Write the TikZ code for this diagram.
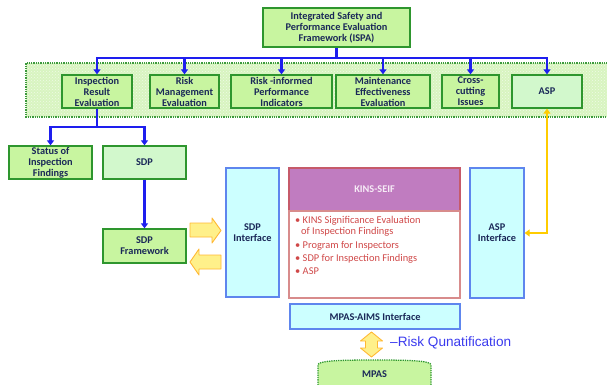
\documentclass[tikz,border=0pt]{standalone}
\usepackage{fontspec}
\setmainfont{Carlito}
\newfontfamily\arialf{Liberation Sans}
\usetikzlibrary{arrows.meta,patterns}
\definecolor{gfill}{HTML}{C8F5A0}
\definecolor{lfill}{HTML}{D2F8CC}
\definecolor{gborder}{HTML}{2E962E}
\definecolor{navy}{HTML}{1A2858}
\definecolor{bandfill}{HTML}{D8F4C0}
\definecolor{bandborder}{HTML}{3C9A3C}
\definecolor{bluec}{HTML}{1E1EEE}
\definecolor{cyanfill}{HTML}{CCFFFF}
\definecolor{cyanborder}{HTML}{5E86EE}
\definecolor{purp}{HTML}{C07CC0}
\definecolor{purpborder}{HTML}{C65A6A}
\definecolor{bodyborder}{HTML}{D88C8C}
\definecolor{redtext}{HTML}{D04848}
\definecolor{goldc}{HTML}{FFCC00}
\definecolor{yelfill}{HTML}{FFF08A}
\definecolor{yelborder}{HTML}{FFB833}
\definecolor{risktext}{HTML}{3A3AEE}
\begin{document}
\begin{tikzpicture}[x=1pt,y=-1pt,
  box/.style={draw=gborder, fill=gfill, line width=1.3pt, align=center, inner sep=0pt,
    font=\bfseries\fontsize{10.3}{11}\selectfont, text=navy},
  lbox/.style={box, fill=lfill},
  cbox/.style={draw=cyanborder, fill=cyanfill, line width=1.3pt, align=center, inner sep=0pt,
    font=\bfseries\fontsize{10.3}{11}\selectfont, text=navy},
  barr/.style={draw=bluec, line width=2.3pt, -{Triangle[length=5pt,width=7pt]}},
  bline/.style={draw=bluec, line width=2.3pt},
  garr/.style={draw=goldc, line width=2.5pt, {Triangle[length=5pt,width=7pt]}-{Triangle[length=5pt,width=7pt]}},
  yarrow/.style={fill=yelfill, draw=yelborder, line width=0.9pt, line join=round}
]
\useasboundingbox (0,0) rectangle (607,385);

% band
\path[preaction={fill=bandfill}, pattern=crosshatch dots, pattern color=white!60!bandfill]
  (26,63) rectangle (612,117);
\draw[bandborder, densely dotted, line width=1.3pt] (612,63) -- (26,63) -- (26,117) -- (612,117);

% top
\node[box, minimum width=147pt, minimum height=39pt] (ispa) at (336.5,27.5)
  {Integrated Safety and\\Performance Evaluation\\Framework (ISPA)};

\node[box, minimum width=70pt, minimum height=33pt] (ire) at (97,91.5) {Inspection\\Result\\Evaluation};
\node[box, minimum width=69pt, minimum height=33pt] (rme) at (184.5,91.5) {Risk\\Management\\Evaluation};
\node[box, minimum width=101pt, minimum height=33pt] (rpi) at (281.5,91.5) {Risk -informed\\Performance\\Indicators};
\node[box, minimum width=94pt, minimum height=33pt] (mee) at (383,91.5) {Maintenance\\Effectiveness\\Evaluation};
\node[box, minimum width=57pt, minimum height=33pt] (cci) at (470.5,91.5) {Cross-\\cutting\\Issues};
\node[lbox, minimum width=70pt, minimum height=33pt] (asp) at (547,91.5) {ASP};

\coordinate (j1) at (336.5,58);
\draw[bline] (ispa.south) -- (j1);
\foreach \n in {ire,rme,rpi,mee,cci,asp} \draw[barr] (j1) -| (\n.north);

% second level
\node[box, minimum width=83pt, minimum height=33pt] (sif) at (50.5,162.5) {Status of\\Inspection\\Findings};
\node[lbox, minimum width=83pt, minimum height=33pt] (sdp) at (144.5,162.5) {SDP};
\node[box, minimum width=83pt, minimum height=34pt] (sdpf) at (144.5,246) {SDP\\Framework};

\coordinate (j2) at (97,127);
\draw[bline] (ire.south) -- (j2);
\draw[barr] (j2) -| (sif.north);
\draw[barr] (j2) -| (sdp.north);
\draw[barr] (sdp.south) -- (sdpf.north);

% interfaces
\node[cbox, minimum width=53pt, minimum height=129pt] (sdpi) at (252.5,232.5) {SDP\\Interface};
\node[cbox, minimum width=54pt, minimum height=130pt] (aspi) at (497,233) {ASP\\Interface};

% KINS-SEIF
\node[draw=purpborder, fill=purp, line width=1.3pt, minimum width=171pt, minimum height=43pt,
  inner sep=0pt, font=\bfseries\fontsize{10.3}{11}\selectfont, text=white!85!purp] (kinsh) at (374.5,189.5) {KINS-SEIF};
\node[draw=bodyborder, fill=white, line width=1.3pt, minimum width=171pt, minimum height=87pt,
  inner sep=0pt] (kinsb) at (374.5,254.5) {};
\node[anchor=north west, align=left, inner sep=0pt, text=redtext,
  font=\fontsize{10.4}{12}\selectfont] (kinst) at (295,216)
  {• KINS Significance Evaluation\\[-0.5pt]
   \hspace*{6pt}of Inspection Findings\\[2pt]
   • Program for Inspectors\\[1pt]
   • SDP for Inspection Findings\\[1pt]
   • ASP};

\node[cbox, minimum width=170pt, minimum height=25pt] (mpasi) at (375,316.5) {MPAS-AIMS Interface};

% yellow block arrows between SDP Framework and SDP Interface
\draw[yarrow] (190,223) -- (212,223) -- (212,218) -- (221,230.5) -- (212,243) -- (212,237) -- (190,237) -- cycle;
\draw[yarrow] (221,255) -- (199,255) -- (199,249) -- (190,262) -- (199,275) -- (199,269) -- (221,269) -- cycle;

% gold connector
\draw[garr] (asp.south) |- (aspi.east);

% double arrow and MPAS
\draw[yarrow] (371.5,332) -- (382.5,341) -- (377.5,341) -- (377.5,348) -- (382.5,348) -- (371.5,357)
  -- (360.5,348) -- (365.5,348) -- (365.5,341) -- (360.5,341) -- cycle;
\node[anchor=west, inner sep=0pt, text=risktext, font=\arialf\fontsize{13.6}{15}\selectfont] (risk) at (390,343)
  {–Risk Qunatification};

\path[fill=gfill] (318,392) -- (318,365) .. controls (318,361) and (335,360) .. (374.5,360)
  .. controls (414,360) and (431,361) .. (431,365) -- (431,392) -- cycle;
\draw[gborder, densely dotted, line width=1.3pt] (318,392) -- (318,365) .. controls (318,361) and (335,360) .. (374.5,360)
  .. controls (414,360) and (431,361) .. (431,365) -- (431,392);
\node[inner sep=0pt, font=\bfseries\fontsize{10.3}{11}\selectfont, text=navy] (mpas) at (374.5,374) {MPAS};
\end{tikzpicture}
\end{document}
